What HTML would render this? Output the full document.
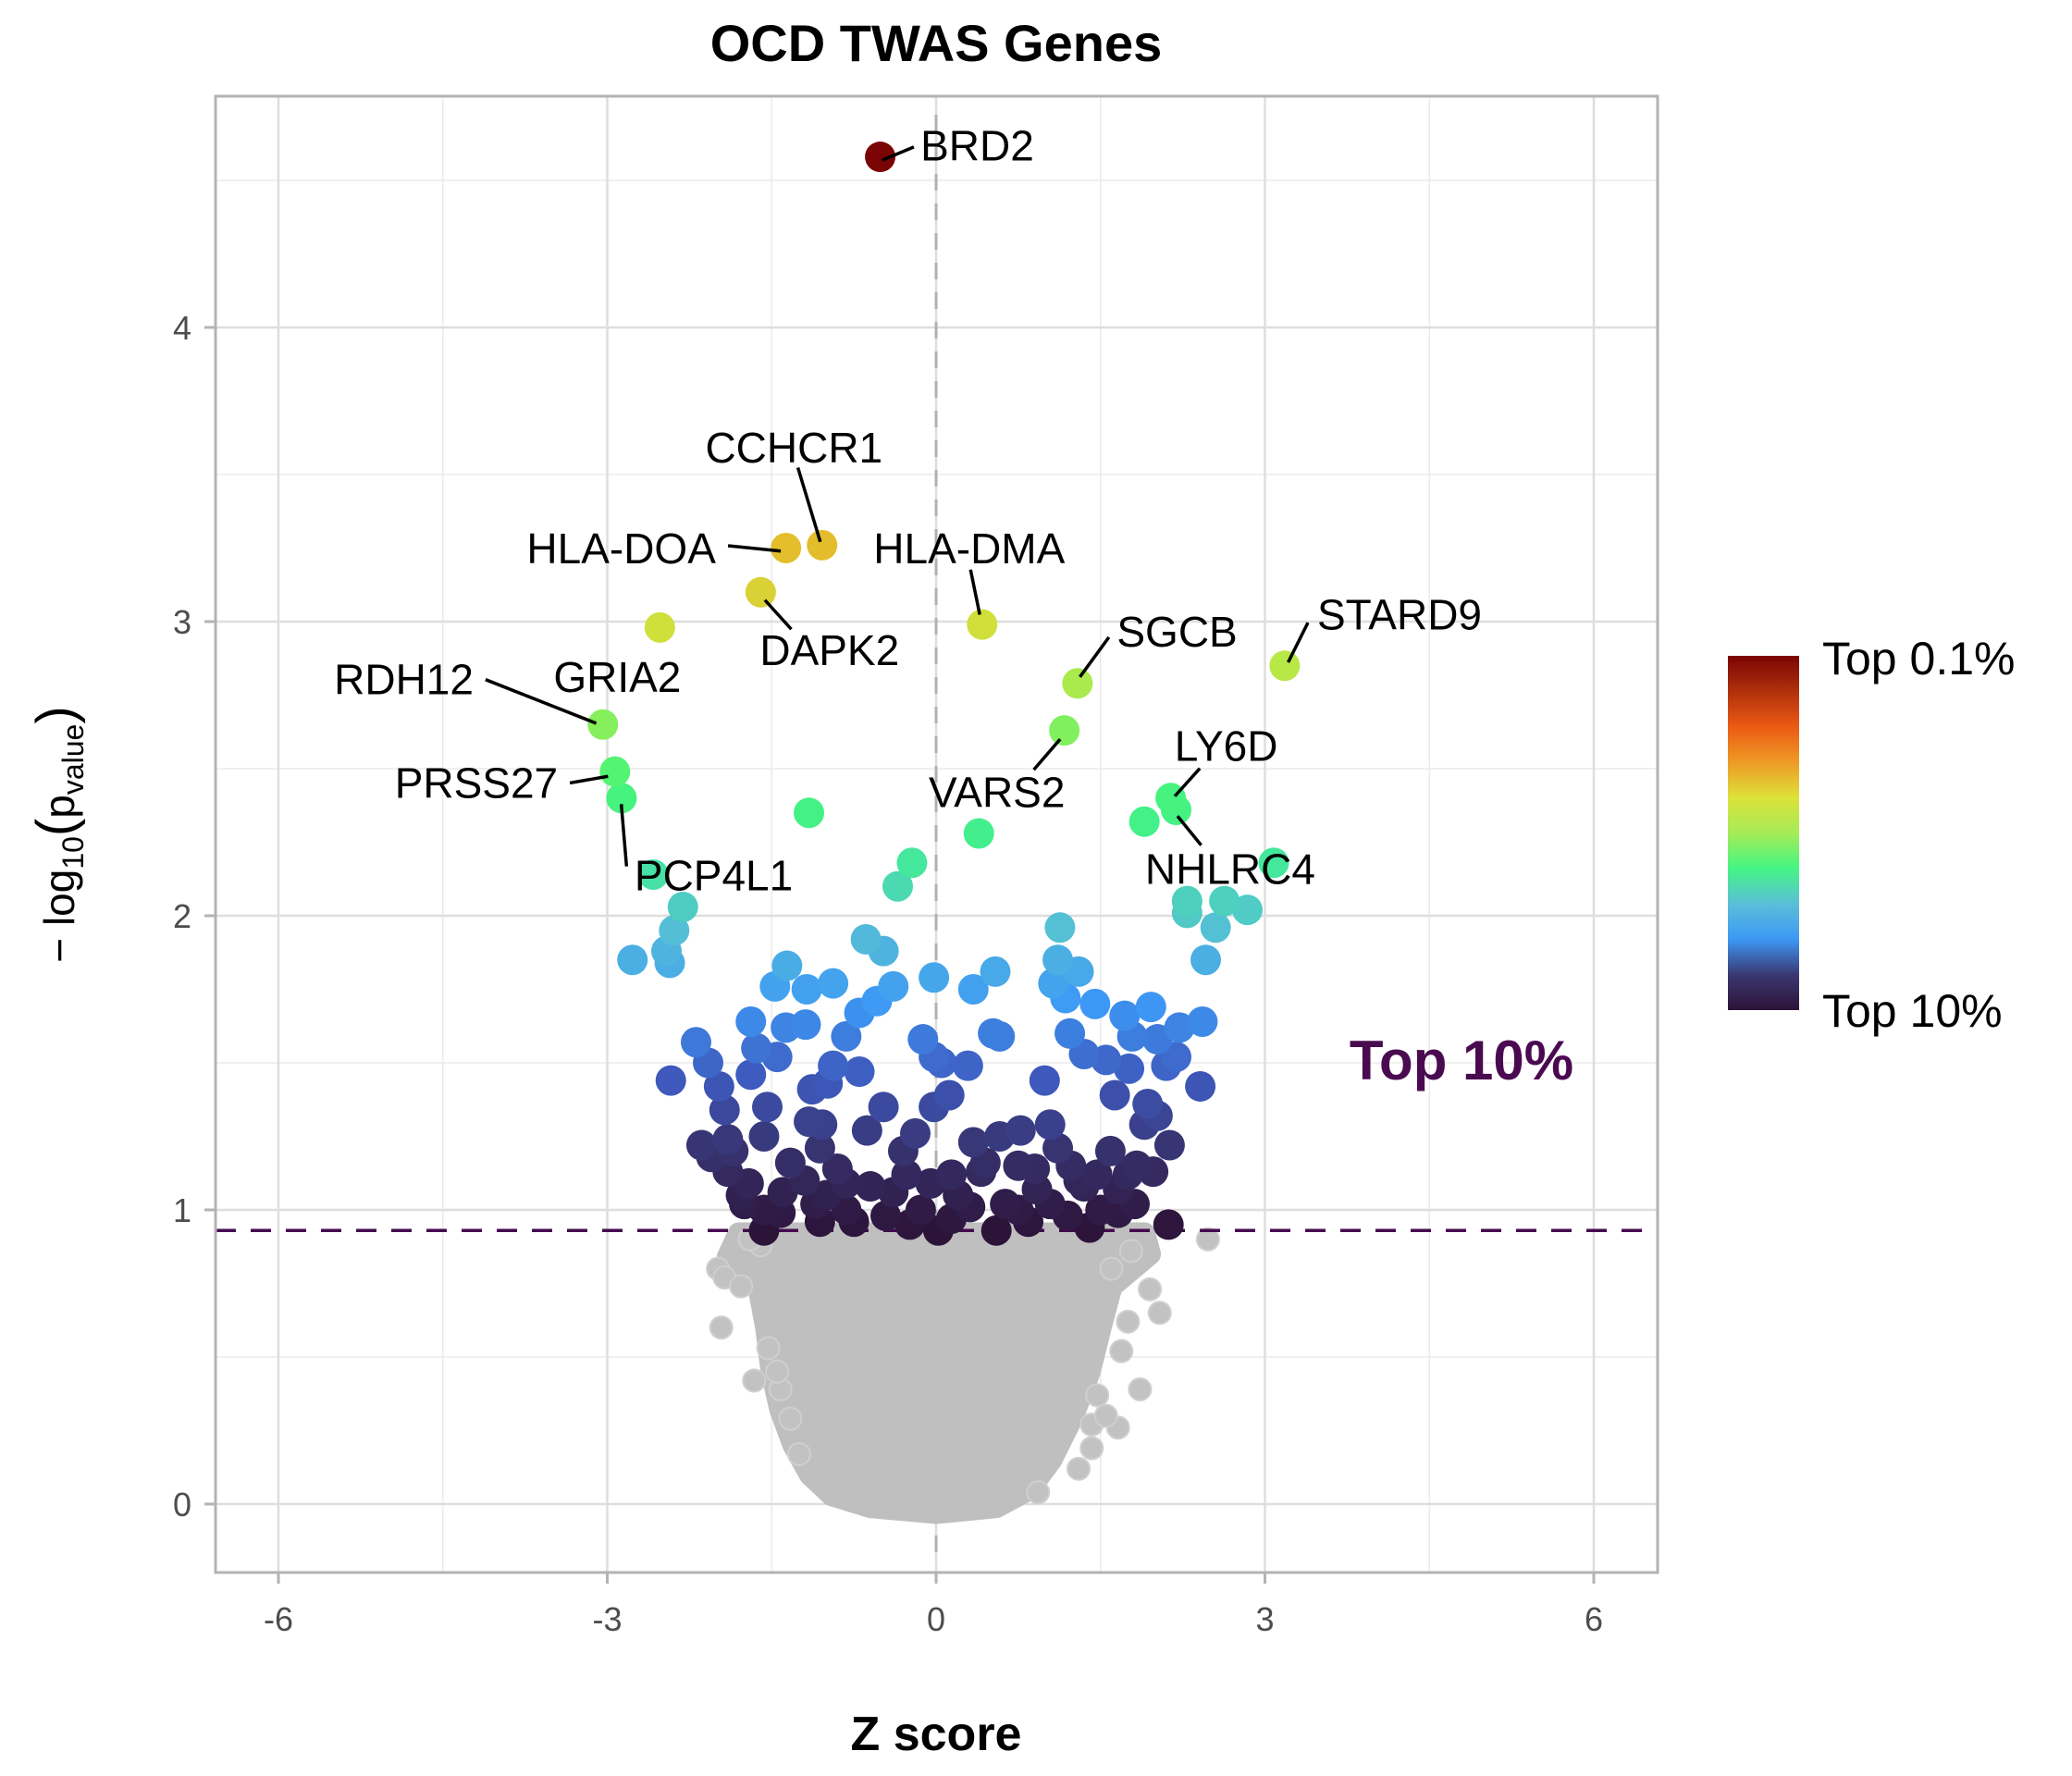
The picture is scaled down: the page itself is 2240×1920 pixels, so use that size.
<!DOCTYPE html>
<html><head><meta charset="utf-8"><style>
html,body{margin:0;padding:0;background:#fff;}
svg text{font-family:"Liberation Sans",Arial,sans-serif;}
</style></head><body>
<svg id="chart" xmlns="http://www.w3.org/2000/svg" width="2240" height="1920" viewBox="0 0 2240 1920" style="position:absolute;left:0;top:0">
<defs>
<linearGradient id="turbo" x1="0" y1="1" x2="0" y2="0">
<stop offset="0" stop-color="#2c1338"/>
<stop offset="0.1" stop-color="#3a3872"/>
<stop offset="0.2" stop-color="#3d98f5"/>
<stop offset="0.3" stop-color="#5bbfd8"/>
<stop offset="0.4" stop-color="#44f584"/>
<stop offset="0.5" stop-color="#a5ec57"/>
<stop offset="0.6" stop-color="#dee13a"/>
<stop offset="0.7" stop-color="#ee9a25"/>
<stop offset="0.8" stop-color="#ec5a14"/>
<stop offset="0.9" stop-color="#b0300c"/>
<stop offset="1" stop-color="#7a0403"/>
</linearGradient>
</defs>
<g id="grid"></g>
<g id="grey"></g>
<g id="colored"></g>
<g id="labels"></g>
<g id="axes"></g>
<text x="1012" y="66" text-anchor="middle" font-size="56" font-weight="bold" fill="#000">OCD TWAS Genes</text>
<text x="1012" y="1892" text-anchor="middle" font-size="52" font-weight="bold" fill="#000">Z score</text>
<text transform="translate(80,902) rotate(-90)" text-anchor="middle" font-size="46" fill="#000">− log<tspan font-size="32" dy="10">10</tspan><tspan dy="-10" font-size="58">(</tspan>p<tspan font-size="32" dy="10">value</tspan><tspan dy="-10" font-size="58">)</tspan></text>
<text x="1580" y="1167" text-anchor="middle" font-size="60" font-weight="bold" fill="#4a0a50">Top 10%</text>
<rect x="1868" y="709" width="77" height="383" fill="url(#turbo)"/>
<text x="1970" y="729" font-size="50" fill="#000">Top 0.1%</text>
<text x="1970" y="1110" font-size="50" fill="#000">Top 10%</text>
</svg>
<script>
// ---- data ----
const hitZ = [-0.51,-1.04,-1.37,-1.60,0.42,-2.52,1.29,3.18,-3.04,1.17,-2.93,-2.87,2.14,2.19,
-1.16,1.90,0.39,3.08,-0.22,-0.35,-2.58,-2.31,2.29,2.63,2.84,2.29,2.55,1.13,-2.39,-0.64,-0.48,-2.46,-2.77,-2.43,2.46,1.11,1.30,-1.36,-0.94,-1.47,-1.18,-0.02,0.54,0.34,1.07,1.18,-0.39,-0.54,-0.70,1.45,1.96,1.72,2.43,2.22,-1.69,-1.37,-1.19,-0.82,0.52,0.58,1.22,1.79,2.02,-0.12,-1.64,-2.19,-1.45,-2.08,-0.02,0.05,-0.94,-0.70,-0.99,0.29,1.55,1.35,1.76,2.10,2.19,-1.69,-2.42,-1.98,2.41,0.99,-1.13,1.63,1.93,-1.54,-0.48,-1.93,0.12,-0.02,2.02,-1.16,-1.04,-0.63,-0.19,1.04,0.77,0.58,0.34,1.90,-2.14,-1.90,-1.57,2.13,-1.06,1.11,1.59,-1.33,-1.90,0.41,0.75,1.23,1.47,1.83,1.98,-0.27,0.14,-0.05,-1.71,-0.82,-0.60,-1.40,-1.00,-0.39,-1.78,0.92,1.35,1.66,-1.10,0.63,1.04,1.81,-1.57,-0.82,0.31,-0.14,-0.46,-1.42,1.20,1.66,-1.06,-0.24,0.02,0.55,0.84,1.40,2.12,-1.57,-0.75,0.14,0.75,-2.05,-1.85,-1.2,-0.3,0.2,0.9,1.5,1.75,-1.75,-0.9,0.45,1.3];
const hitP = [4.58,3.26,3.25,3.10,2.99,2.98,2.79,2.85,2.65,2.63,2.49,2.40,2.40,2.36,
2.35,2.32,2.28,2.18,2.18,2.10,2.14,2.03,2.05,2.05,2.02,2.01,1.96,1.96,1.95,1.92,1.88,1.88,1.85,1.84,1.85,1.85,1.81,1.83,1.77,1.76,1.75,1.79,1.81,1.75,1.77,1.72,1.76,1.71,1.67,1.70,1.69,1.66,1.64,1.62,1.64,1.62,1.63,1.59,1.60,1.59,1.60,1.59,1.58,1.58,1.55,1.57,1.52,1.50,1.52,1.50,1.49,1.47,1.43,1.49,1.51,1.53,1.48,1.49,1.52,1.46,1.44,1.42,1.42,1.44,1.41,1.39,1.36,1.35,1.35,1.34,1.39,1.35,1.32,1.30,1.29,1.27,1.26,1.29,1.27,1.25,1.23,1.29,1.22,1.24,1.25,1.22,1.21,1.21,1.20,1.16,1.13,1.13,1.15,1.15,1.12,1.15,1.13,1.12,1.12,1.09,1.09,1.09,1.08,1.06,1.05,1.06,1.05,1.07,1.08,1.07,1.02,1.02,1.02,1.02,1.00,1.00,1.01,1.00,0.98,0.99,0.98,0.99,0.96,0.95,0.93,0.93,0.96,0.94,0.95,0.93,0.96,0.97,1.00,1.18,1.2,1.1,1.2,1.05,1.14,1.0,1.12,1.02,1.14,1.16,1.1];
const geneNames = ["BRD2","CCHCR1","HLA-DOA","DAPK2","HLA-DMA","GRIA2","SGCB","STARD9","RDH12","VARS2","PRSS27","PCP4L1","LY6D","NHLRC4"];
const cloudZ = [-1.8,-1.9,-1.62,-1.55,-1.5,-1.42,-1.3,-1.15,-0.95,-0.6,0,0.55,0.85,1.05,1.25,1.4,1.5,1.6,1.95,1.9];
const cloudP = [0.92,0.84,0.74,0.6,0.45,0.32,0.2,0.1,0.03,-0.01,-0.03,-0.01,0.05,0.15,0.3,0.45,0.6,0.74,0.85,0.92];
const greyZ = [-1.99,-1.93,-1.78,-1.96,-1.66,2.04,1.86,1.69,1.66,1.42,2.48,1.78,1.95,-1.25,0.93,-1.33,-1.42,-1.53,1.47,1.42,-1.6,1.75,1.3,-1.45,1.55,-1.7,1.6];
const greyP = [0.80,0.77,0.74,0.60,0.42,0.65,0.39,0.52,0.26,0.27,0.90,0.86,0.73,0.17,0.04,0.29,0.39,0.53,0.37,0.19,0.88,0.62,0.12,0.45,0.30,0.9,0.8];
const xTicks = [-6,-3,0,3,6];
const xTickLabels = ["-6","-3","0","3","6"];
const yTicks = [0,1,2,3,4];
const yTickLabels = ["0","1","2","3","4"];
const threshold = 0.93;

// ---- scales ----
const X = z => 1012 + 118.5*z;
const Y = p => 1626 - 318*p;
const PL=233, PR=1792, PT=104, PB=1700;
const NS="http://www.w3.org/2000/svg";
function mk(tag, attrs, parent){const e=document.createElementNS(NS,tag);for(const k in attrs)e.setAttribute(k,attrs[k]);parent.appendChild(e);return e;}

const cStops=[[0.93,[44,19,56]],[1.2,[55,50,110]],[1.45,[62,90,190]],[1.7,[61,152,245]],[1.95,[85,190,215]],[2.2,[66,235,150]],[2.45,[70,245,120]],[2.7,[150,238,85]],[2.95,[205,228,60]],[3.25,[228,190,45]],[3.8,[236,110,25]],[4.58,[122,4,3]]];
function col(p){
  if(p<=cStops[0][0])return`rgb(${cStops[0][1]})`;
  for(let i=1;i<cStops.length;i++){if(p<=cStops[i][0]){const a=cStops[i-1],b=cStops[i],t=(p-a[0])/(b[0]-a[0]);return`rgb(${a[1].map((v,j)=>Math.round(v+(b[1][j]-v)*t)).join(',')})`;}}
  return`rgb(${cStops[cStops.length-1][1]})`;
}

const grid=document.getElementById('grid');
mk('rect',{x:PL,y:PT,width:PR-PL,height:PB-PT,fill:'#fff'},grid);
[-4.5,-1.5,1.5,4.5].forEach(v=>mk('line',{x1:X(v),x2:X(v),y1:PT,y2:PB,stroke:'#ebebeb','stroke-width':1.5},grid));
[0.5,1.5,2.5,3.5,4.5].forEach(v=>mk('line',{x1:PL,x2:PR,y1:Y(v),y2:Y(v),stroke:'#ebebeb','stroke-width':1.5},grid));
xTicks.forEach(v=>mk('line',{x1:X(v),x2:X(v),y1:PT,y2:PB,stroke:'#dedede','stroke-width':2.5},grid));
yTicks.forEach(v=>mk('line',{x1:PL,x2:PR,y1:Y(v),y2:Y(v),stroke:'#dedede','stroke-width':2.5},grid));
const vline=mk('line',{x1:X(0),x2:X(0),y1:PT+20,y2:PB-20,stroke:'#b0b0b0','stroke-width':3,'stroke-dasharray':'18,14'},grid);



const grey=document.getElementById('grey');
const cloud=mk('polygon',{points:cloudZ.map((z,i)=>X(z)+','+Y(cloudP[i])).join(' '),fill:'#bfbfbf',stroke:'#bfbfbf','stroke-width':24,'stroke-linejoin':'round'},grey);


greyZ.forEach((z,i)=>{
  const c=mk('circle',{cx:X(z),cy:Y(greyP[i]),r:12,fill:'#c2c2c2',stroke:'#cfcfcf','stroke-width':2},grey);
  
  
});
const th=mk('line',{x1:PL,x2:PR,y1:Y(threshold),y2:Y(threshold),stroke:'#45084f','stroke-width':3.5,'stroke-dasharray':'22,16'},grey);



const colored=document.getElementById('colored');
const order=hitP.map((p,i)=>i).sort((a,b)=>hitP[a]-hitP[b]);
order.forEach(i=>{
  const c=mk('circle',{cx:X(hitZ[i]),cy:Y(hitP[i]),r:16.5,fill:col(hitP[i])},colored);
  
  
});

const D=(dx,dy)=>[dx*1.4248+2, dy*1.4324-3];
const labelLayout=[
 ['start',697,112,668,123,692,113],
 ['middle',601,340,604,355,621,411],
 ['middle',470,416,551,414,591,418],
 ['middle',628,493,579,455,599,477],
 ['middle',734,416,735,432,742,466],
 ['middle',467,513,null],
 ['start',846,479,840,483,818,513],
 ['start',998,466,991,472,976,502],
 ['middle',305,515,367,515,451,548],
 ['middle',755,600,783,583,803,560],
 ['middle',360,593,431,593,460,588],
 ['start',480,663,470,609,474,656],
 ['middle',929,565,909,582,890,603],
 ['middle',932,658,910,640,892,618]];
const labels=document.getElementById('labels');
geneNames.forEach((g,i)=>{
  const L=labelLayout[i];
  if(L[3]!==null){const a=D(L[3],L[4]),b=D(L[5],L[6]);
    const ln=mk('line',{x1:a[0],y1:a[1],x2:b[0],y2:b[1],stroke:'#000','stroke-width':3.5},labels);
    
    }
  const p=D(L[1],L[2]);
  const t=mk('text',{x:p[0],y:p[1]+16,'text-anchor':L[0],'font-size':46,fill:'#000'},labels);
  t.textContent=g;
  
  
});

const axes=document.getElementById('axes');
mk('rect',{x:PL,y:PT,width:PR-PL,height:PB-PT,fill:'none',stroke:'#b3b3b3','stroke-width':3},axes);
xTicks.forEach((v,i)=>{
  mk('line',{x1:X(v),x2:X(v),y1:PB,y2:PB+12,stroke:'#b3b3b3','stroke-width':3},axes);
  const t=mk('text',{x:X(v),y:PB+63,'text-anchor':'middle','font-size':36,fill:'#4d4d4d'},axes);
  t.textContent=xTickLabels[i];
  
  
});
yTicks.forEach((v,i)=>{
  mk('line',{x1:PL-12,x2:PL,y1:Y(v),y2:Y(v),stroke:'#b3b3b3','stroke-width':3},axes);
  const t=mk('text',{x:207,y:Y(v)+13,'text-anchor':'end','font-size':36,fill:'#4d4d4d'},axes);
  t.textContent=yTickLabels[i];
  
  
});
</script>
</body></html>
